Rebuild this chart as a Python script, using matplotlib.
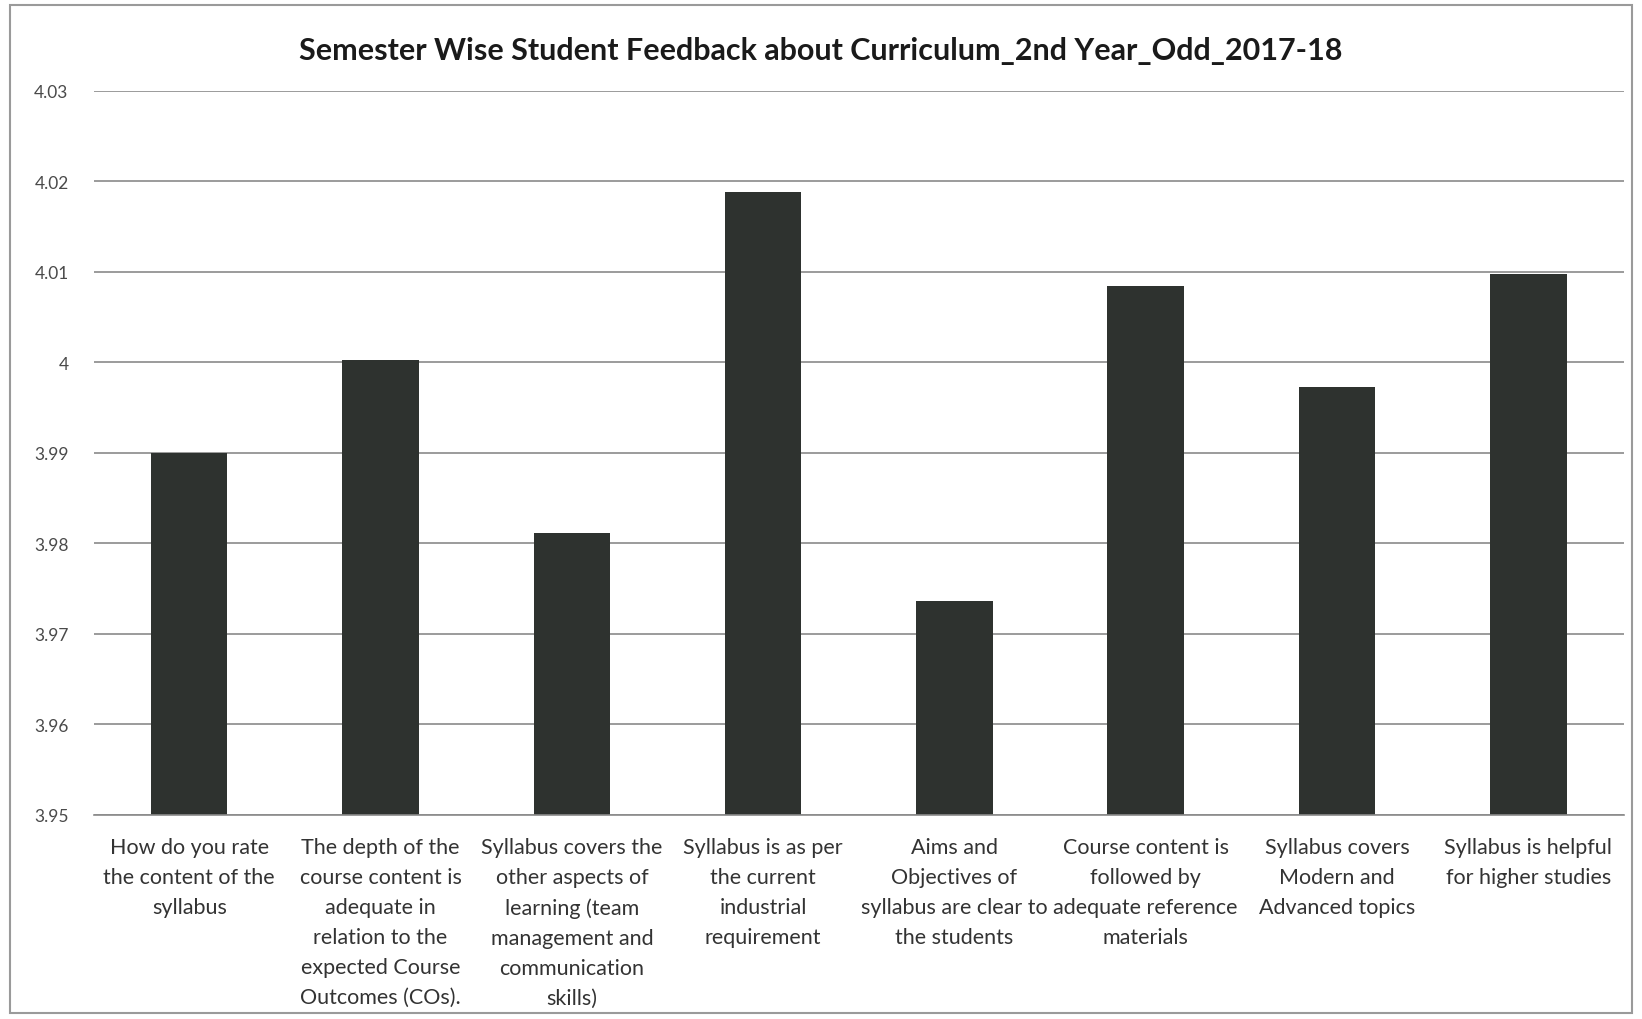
import matplotlib

matplotlib.use("Agg")
import matplotlib.pyplot as plt

categories = [
    "How do you rate\nthe content of the\nsyllabus",
    "The depth of the\ncourse content is\nadequate in\nrelation to the\nexpected Course\nOutcomes (COs).",
    "Syllabus covers the\nother aspects of\nlearning (team\nmanagement and\ncommunication\nskills)",
    "Syllabus is as per\nthe current\nindustrial\nrequirement",
    "Aims and\nObjectives of\nsyllabus are clear to\nthe students",
    "Course content is\nfollowed by\nadequate reference\nmaterials",
    "Syllabus covers\nModern and\nAdvanced topics",
    "Syllabus is helpful\nfor higher studies",
]
scores = [3.990, 4.0003, 3.9811, 4.0188, 3.9736, 4.0084, 3.9973, 4.0098]
y_ticks = [3.95, 3.96, 3.97, 3.98, 3.99, 4.0, 4.01, 4.02, 4.03]
y_tick_labels = ["3.95", "3.96", "3.97", "3.98", "3.99", "4", "4.01", "4.02", "4.03"]
title = "Semester Wise Student Feedback about Curriculum_2nd Year_Odd_2017-18"

plt.rcParams["font.family"] = ["Lato", "DejaVu Sans"]

fig = plt.figure(figsize=(16.42, 10.2), dpi=100)
ax = fig.add_axes([0.057, 0.2, 0.932, 0.71])

x = range(len(categories))
ax.bar(x, scores, width=0.4, color="#2e322f", zorder=2)

ax.set_ylim(3.95, 4.03)
ax.set_xlim(-0.5, len(categories) - 0.5)
ax.set_yticks(y_ticks)
ax.set_yticklabels(y_tick_labels, fontsize=12.5, color="#4a4a4a")
ax.set_xticks(list(x))
ax.set_xticklabels(categories, fontsize=15.5, color="#333333", va="top", linespacing=1.62)
ax.tick_params(axis="both", length=0)
ax.tick_params(axis="x", pad=16)
ax.tick_params(axis="y", pad=18)

ax.yaxis.grid(True, color="#8a8a8a", linewidth=1.2, zorder=0)
for side in ["left", "right", "top"]:
    ax.spines[side].set_visible(False)
ax.spines["bottom"].set_color("#8a8a8a")
ax.spines["bottom"].set_linewidth(1.2)

fig.text(0.5, 0.95, title, ha="center", va="center", fontsize=22, fontweight="bold", color="#1a1a1a")

# frame of the chart area
border = plt.Rectangle((0.006, 0.006), 0.988, 0.988, transform=fig.transFigure,
                       fill=False, edgecolor="#9a9a9a", linewidth=1.5)
fig.patches.append(border)

fig.savefig("out.png", dpi=100)
